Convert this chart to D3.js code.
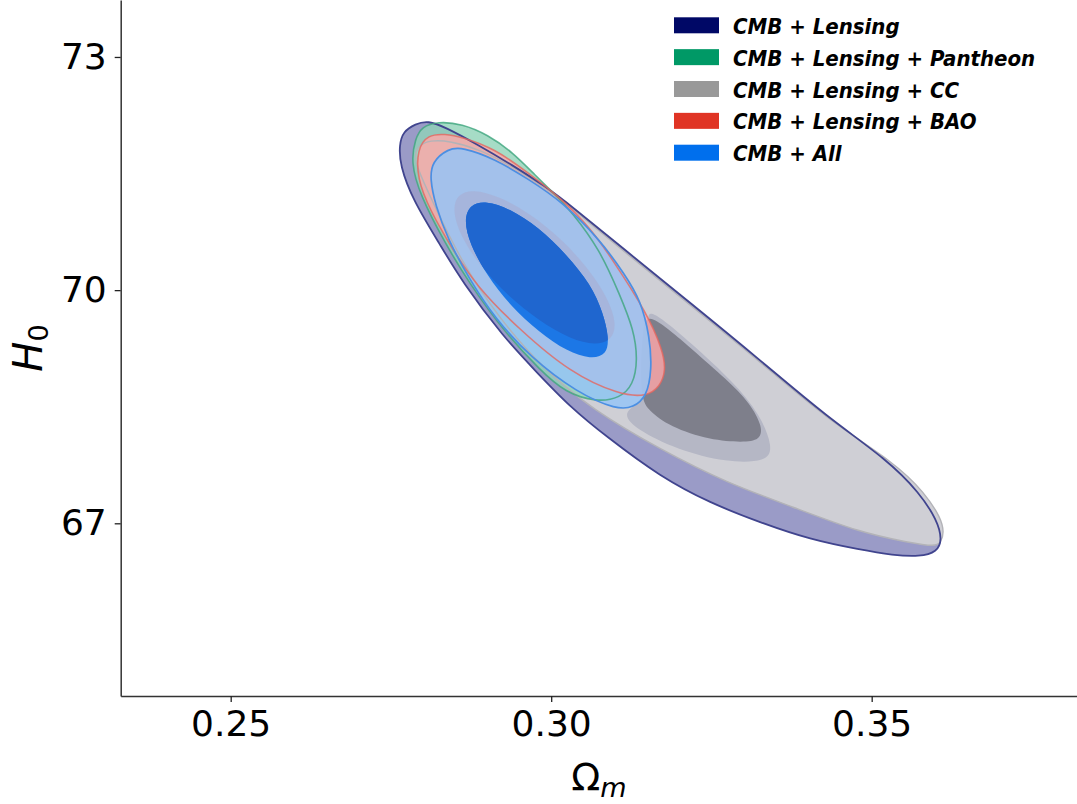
<!DOCTYPE html>
<html lang="en">
<head>
<meta charset="UTF-8">
<title>H0 - Omega_m contours</title>
<script src="https://d3js.org/d3.v7.min.js"></script>
<style>
    body { margin: 0; background: #fff; }
    svg { display: block; }
    .tick text { font-family: "DejaVu Sans", sans-serif; font-size: 36px; fill: #000; }
    .tick line { stroke: #222; stroke-width: 1.3; }
    .domain { stroke: #333; stroke-width: 1.5; }
    .legend text { font-family: "DejaVu Sans Condensed", "DejaVu Sans", sans-serif; font-stretch: condensed;
                   font-weight: bold; font-style: italic; font-size: 22px; fill: #000; }
    .label { font-family: "DejaVu Sans", sans-serif; fill: #000; }
</style>
</head>
<body>
<svg id="chart" width="1077" height="804"></svg>
<script>
    // ticks
    const omegaTicks = [0.25, 0.30, 0.35];
    const h0Ticks = [67, 70, 73];

    const legendLabels = ["CMB + Lensing", "CMB + Lensing + Pantheon", "CMB + Lensing + CC",
                          "CMB + Lensing + BAO", "CMB + All"];
    const legendColors = ["#000866", "#009966", "#999999", "#e03424", "#006fed"];

    // contour outlines, [Omega_m, H0]
    const lensing2s = [[0.2808,72.18],[0.2834,72.10],[0.2886,71.87],[0.2939,71.61],[0.2990,71.34],[0.3032,71.08],
        [0.3107,70.57],[0.3221,69.81],[0.3326,69.10],[0.3430,68.37],[0.3524,67.82],[0.3575,67.39],[0.3602,67.04],
        [0.3610,66.79],[0.3602,66.63],[0.3575,66.57],[0.3533,66.59],[0.3482,66.66],[0.3404,66.79],[0.3326,67.01],
        [0.3248,67.26],[0.3170,67.60],[0.3087,68.11],[0.3029,68.50],[0.2978,68.94],[0.2925,69.40],[0.2861,70.11],
        [0.2827,70.58],[0.2784,71.16],[0.2764,71.61],[0.2763,71.87],[0.2769,72.04],[0.2788,72.14]];
    const lensing1s = [[0.3139,69.88],[0.3221,69.30],[0.3284,68.82],[0.3326,68.40],[0.3346,67.98],[0.3337,67.79],
        [0.3274,67.78],[0.3196,67.95],[0.3134,68.20],[0.3107,68.43],[0.3151,68.59],[0.3162,69.36]];
    const cc2s = [[0.2784,71.68],[0.2792,71.86],[0.2811,71.93],[0.2842,71.92],[0.2889,71.81],[0.2939,71.59],
        [0.2990,71.32],[0.3032,71.06],[0.3107,70.54],[0.3221,69.78],[0.3326,69.08],[0.3430,68.34],[0.3536,67.78],
        [0.3583,67.39],[0.3608,67.07],[0.3613,66.88],[0.3608,66.75],[0.3599,66.70],[0.3560,66.75],[0.3482,66.88],
        [0.3377,67.21],[0.3274,67.52],[0.3170,67.95],[0.3065,68.46],[0.2990,68.97],[0.2920,69.62],[0.2858,70.39],
        [0.2814,71.16]];
    const cc1s = [[0.3149,69.75],[0.3221,69.23],[0.3274,68.85],[0.3310,68.55],[0.3330,68.24],[0.3326,68.07],
        [0.3299,68.04],[0.3248,68.07],[0.3185,68.24],[0.3151,68.46],[0.3142,68.59],[0.3139,68.97],[0.3143,69.49]];
    const pantheon2s = [[0.2788,71.95],[0.2798,72.10],[0.2823,72.17],[0.2861,72.14],[0.2901,72.00],[0.2939,71.78],
        [0.2975,71.48],[0.3006,71.23],[0.3032,71.01],[0.3076,70.52],[0.3107,69.94],[0.3129,69.49],[0.3135,69.10],
        [0.3128,68.78],[0.3107,68.61],[0.3071,68.56],[0.3022,68.68],[0.2983,68.97],[0.2929,69.44],[0.2872,70.09],
        [0.2834,70.61],[0.2795,71.23],[0.2781,71.65]];
    const bao2s = [[0.2791,71.82],[0.2808,72.00],[0.2834,72.01],[0.2861,71.97],[0.2912,71.82],[0.2964,71.51],
        [0.3017,71.17],[0.3061,70.80],[0.3096,70.39],[0.3149,69.71],[0.3174,69.23],[0.3179,68.97],[0.3170,68.76],
        [0.3149,68.63],[0.3107,68.65],[0.3029,68.94],[0.2951,69.49],[0.2884,70.04],[0.2842,70.58],[0.2811,71.03],
        [0.2791,71.43]];
    const all2s = [[0.2814,71.65],[0.2839,71.82],[0.2861,71.84],[0.2912,71.69],[0.2964,71.43],[0.3017,71.14],
        [0.3076,70.65],[0.3115,70.20],[0.3139,69.88],[0.3154,69.40],[0.3157,68.97],[0.3149,68.63],[0.3128,68.49],
        [0.3103,68.46],[0.3040,68.68],[0.2967,69.14],[0.2912,69.64],[0.2873,70.13],[0.2839,70.65],[0.2819,71.10],
        [0.2811,71.43]];
    const all1s = [[0.3087,69.17],[0.3090,69.39],[0.3081,69.71],[0.3062,70.07],[0.3024,70.46],[0.2980,70.81],
        [0.2935,71.05],[0.2898,71.15],[0.2873,71.10],[0.2864,70.90],[0.2873,70.59],[0.2899,70.20],[0.2936,69.80],
        [0.2981,69.46],[0.3025,69.21],[0.3062,69.11]];
    const core1s = [[0.3095,69.36],[0.3102,69.57],[0.3089,69.89],[0.3059,70.27],[0.3016,70.66],[0.2966,70.99],
        [0.2918,71.21],[0.2878,71.30],[0.2853,71.23],[0.2846,71.02],[0.2859,70.69],[0.2889,70.31],[0.2932,69.93],
        [0.2982,69.60],[0.3030,69.37],[0.3070,69.29]];

    const width = 1077, height = 804;
    const margin = {top: 0, right: 0, bottom: 108, left: 120.7};

    const x = d3.scaleLinear().domain([0.23284, 0.38203]).range([margin.left, width - margin.right]);
    const y = d3.scaleLinear().domain([64.778, 73.733]).range([height - margin.bottom, margin.top]);

    const contour = d3.line()
        .x(d => x(d[0]))
        .y(d => y(d[1]))
        .curve(d3.curveBasisClosed);

    const svg = d3.select("#chart");
    const plot = svg.append("g");

    function fillContour(pts, color, opacity) {
        return plot.append("path")
            .attr("d", contour(pts))
            .attr("fill", color)
            .attr("fill-opacity", opacity)
            .attr("stroke", "none");
    }
    function strokeContour(pts, color, w, opacity) {
        return plot.append("path")
            .attr("d", contour(pts))
            .attr("fill", "none")
            .attr("stroke", color)
            .attr("stroke-width", w)
            .attr("stroke-opacity", opacity);
    }

    // filled regions, back to front
    fillContour(lensing2s, "#9a9bc7", 1);
    fillContour(cc2s, "#cfcfd5", 1);
    fillContour(lensing1s, "#b5b7c5", 1);
    fillContour(cc1s, "#7e7f8b", 1);
    fillContour(pantheon2s, "#90d3b8", 0.8);
    fillContour(bao2s, "#ffa8a9", 0.8);
    fillContour(all2s, "#97c4f6", 0.85);

    // outlines on top
    strokeContour(cc2s, "#b3b3b8", 1.4, 1);
    strokeContour(lensing2s, "#40448e", 1.8, 1);
    strokeContour(pantheon2s, "#3da57d", 1.6, 0.8);
    strokeContour(bao2s, "#e3675f", 1.6, 0.8);
    strokeContour(all2s, "#4b8fe3", 1.7, 1);

    // inner blue region and its overlap
    fillContour(core1s, "#aaaacd", 0.5);
    fillContour(all1s, "#1c77e6", 1);
    svg.append("defs").append("clipPath").attr("id", "all1Clip")
        .append("path").attr("d", contour(all1s));
    plot.append("path")
        .attr("d", contour(core1s))
        .attr("fill", "#1f66cf")
        .attr("clip-path", "url(#all1Clip)");

    // axes
    svg.append("g")
        .attr("transform", `translate(0,${height - margin.bottom})`)
        .call(d3.axisBottom(x).tickValues(omegaTicks).tickFormat(d3.format(".2f"))
            .tickSize(6).tickSizeOuter(0).tickPadding(8));

    svg.append("g")
        .attr("transform", `translate(${margin.left},0)`)
        .call(d3.axisLeft(y).tickValues(h0Ticks).tickFormat(d3.format("d"))
            .tickSize(6).tickSizeOuter(0).tickPadding(8));

    // axis labels, centred on the axes
    const xMid = (margin.left + width - margin.right) / 2;
    const yMid = (margin.top + height - margin.bottom) / 2;

    const xl = svg.append("text").attr("class", "label")
        .attr("x", xMid).attr("y", 790).attr("text-anchor", "middle")
        .style("font-size", "38px");
    xl.append("tspan").text("Ω");
    xl.append("tspan").attr("font-style", "italic").style("font-size", "27px").attr("dy", 7).text("m");

    const yl = svg.append("text").attr("class", "label")
        .attr("transform", `translate(42,${yMid}) rotate(-90)`)
        .attr("text-anchor", "middle")
        .style("font-size", "40px");
    yl.append("tspan").attr("font-style", "italic").text("H");
    yl.append("tspan").style("font-size", "27px").attr("dy", 6).text("0");

    // legend
    const legend = svg.append("g").attr("class", "legend");
    const rows = legend.selectAll("g")
        .data(legendLabels)
        .enter()
        .append("g")
        .attr("transform", (d, i) => `translate(674,${25.3 + i * 31.85})`);
    rows.append("rect")
        .attr("x", 0).attr("y", -8)
        .attr("width", 45).attr("height", 16)
        .attr("fill", (d, i) => legendColors[i]);
    rows.append("text")
        .attr("x", 59).attr("y", 8.5)
        .text(d => d);
</script>
</body>
</html>
